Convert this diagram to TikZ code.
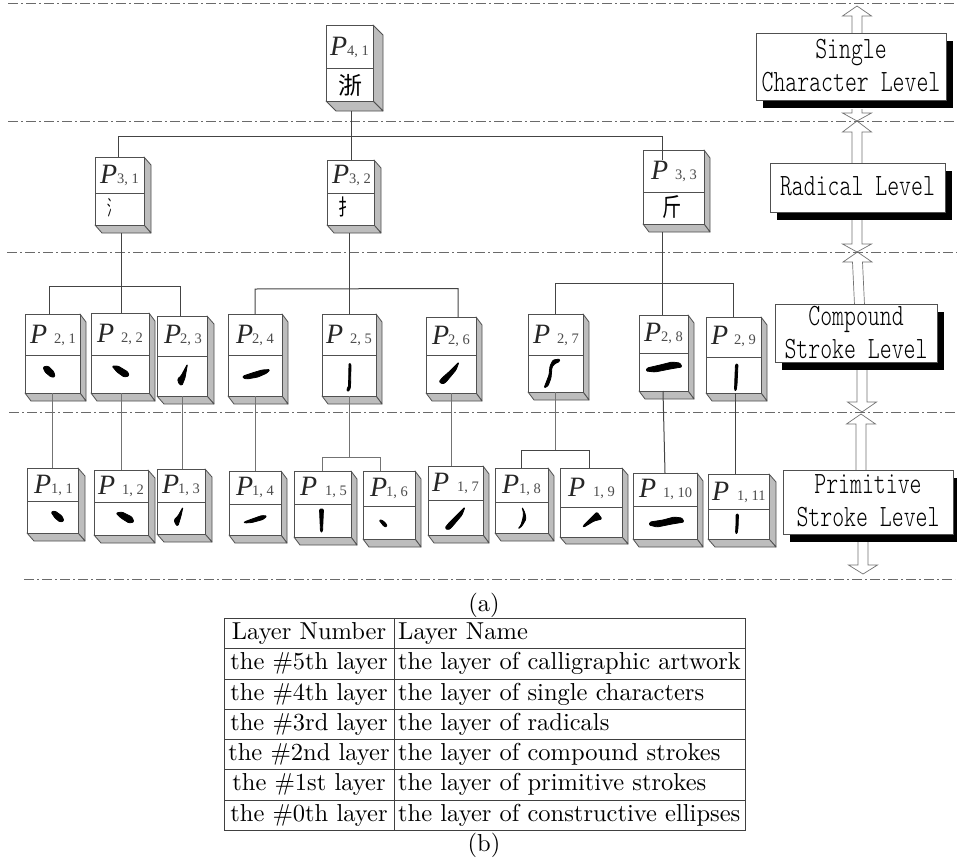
\documentclass[tikz,border=0pt]{standalone}
\usepackage{fontspec}
\newfontfamily\tms{Liberation Serif}
\newfontfamily\cjk{Noto Sans CJK SC}
\newfontfamily\lvfont{Latin Modern Mono Light}
\usetikzlibrary{calc}
\definecolor{edge}{HTML}{505050}
\definecolor{sidegray}{HTML}{BDBDBD}
\tikzset{
  boxfront/.style={draw=edge,fill=white,line width=.8pt,inner sep=0pt,outer sep=0pt},
  boxside/.style={draw=edge,fill=sidegray,line width=.8pt,line join=round},
  boxdiv/.style={draw=edge,line width=.8pt},
  conn/.style={draw=edge!85!black,line width=1pt},
  thinconn/.style={draw=edge!80,line width=.8pt},
  level/.style={draw=edge,fill=white,line width=.8pt,inner sep=0pt,outer sep=0pt,align=center,font=\fontsize{10}{33}\selectfont\lvfont},
  hollow/.style={draw=edge!80,fill=white,line width=.7pt,line join=miter},
  sep/.style={draw=edge!85,line width=1pt,dash pattern=on 10pt off 3pt on 2pt off 3pt},
  pen/.style={fill=black,draw=black,line width=.8pt,line join=round,rounded corners=1.2pt},
  pletter/.style={anchor=base west,inner sep=0pt,text=black!85,font=\fontsize{28}{28}\selectfont\tms\itshape},
  psub/.style={anchor=base west,inner sep=0pt,text=black!70,font=\fontsize{14.5}{15}\selectfont\tms},
  tabtext/.style={inner sep=0pt,font=\fontsize{10}{12}\selectfont},
  tabline/.style={draw=edge!80!black,line width=.9pt},
  glyph/.style={inner sep=0pt}
}
\newcommand\tx[1]{\scalebox{2.45}{#1}}
\newcommand\pbox[8]{% name l t r b div rr bb
  \draw[boxside] (#4,#3) -- (#7,{#3+#8-#5}) -- (#7,#8) -- (#4,#5) -- cycle;
  \draw[boxside] (#2,#5) -- ({#2+#7-#4},#8) -- (#7,#8) -- (#4,#5) -- cycle;
  \node[boxfront,minimum width={(#4-#2)*1pt},minimum height={(#5-#3)*1pt}] (#1) at ({(#2+#4)/2},{(#3+#5)/2}) {};
  \draw[boxdiv] (#2,#6) -- (#4,#6);
  \coordinate (#1-b) at (#7,#8);
}
\newcommand\plabel[5]{% name px sx y sub
  \node[pletter] (#1-P) at (#2,#4) {P};
  \node[psub] (#1-s) at (#3,#4) {#5};
}
\newcommand\lv[1]{\raisebox{2pt}{\scalebox{2.27}[3.1]{#1}}}
\newcommand\levelbox[6]{% name l t r b text
  \fill[black] ({#2+7},{#3+8}) rectangle ({#4+7},{#5+8});
  \node[level,minimum width={(#4-#2)*1pt},minimum height={(#5-#3)*1pt}] (#1) at ({(#2+#4)/2},{(#3+#5)/2}) {#6};
}
\newcommand\hollowarrow[5]{% xstart xhead ystart ybase ytip
  \draw[hollow] ({#1-5},#3) -- ({#2-5},#4) -- ({#2-14.5},#4) -- (#2,#5) -- ({#2+14.5},#4) -- ({#2+5},#4) -- ({#1+5},#3);
}
\begin{document}
\begin{tikzpicture}[x=1pt,y=-1pt]
\useasboundingbox (0,0) rectangle (957,862);
\clip (0,0) rectangle (957,862);
\fill[white] (0,0) rectangle (957,862);

% hollow arrows
\hollowarrow{857}{857}{34}{16}{6}
\hollowarrow{857}{857}{109}{113}{121}
\hollowarrow{857}{857}{164}{132}{121}
\hollowarrow{857}{857}{220}{244}{252}
\hollowarrow{859.5}{857.5}{305}{262}{252}
\hollowarrow{862}{862}{370}{402}{412}
\hollowarrow{861}{861}{471}{424}{414}
\hollowarrow{863}{863}{542}{565}{574}

% separators
\coordinate (s1l) at (8,3);   \coordinate (s1r) at (957,3);
\coordinate (s2l) at (8,121); \coordinate (s2r) at (957,121);
\coordinate (s3l) at (7,252); \coordinate (s3r) at (957,252);
\coordinate (s4l) at (9,412); \coordinate (s4r) at (957,412);
\coordinate (s5l) at (24,579);\coordinate (s5r) at (955,579);
\foreach \i in {1,...,5} \draw[sep] (s\i l) -- (s\i r);

% level boxes
\levelbox{lvA}{756}{33}{946}{100}{\lv{Single}\\\lv{Character Level}}
\levelbox{lvB}{770}{163}{945}{212}{\lv{Radical Level}}
\levelbox{lvC}{775}{304}{937}{362}{\lv{Compound}\\\lv{Stroke Level}}
\levelbox{lvD}{783}{470}{953}{534}{\lv{Primitive}\\\lv{Stroke Level}}

% boxes
\pbox{p41}{326}{25}{373}{101}{68}{383}{111}
\pbox{p31}{95}{157}{144}{225}{193}{151}{233}
\pbox{p32}{327}{160}{374}{225}{193}{381}{233}
\pbox{p33}{643}{150}{704}{224}{192}{710}{232}
\pbox{p21}{25}{314}{80}{393}{355}{86}{401}
\pbox{p22}{91}{313}{149}{393}{355}{155}{401}
\pbox{p23}{157}{316}{207}{396}{356}{214}{404}
\pbox{p24}{228}{314}{282}{396}{355}{288}{404}
\pbox{p25}{322}{314}{376}{396}{355}{382}{404}
\pbox{p26}{426}{317}{476}{393}{355}{482}{401}
\pbox{p27}{528}{314}{583}{392}{355}{589}{400}
\pbox{p28}{639}{315}{688}{391}{353}{694}{399}
\pbox{p29}{706}{317}{761}{393}{357}{767}{401}
\pbox{p11}{27}{468}{78}{533}{501}{85}{541}
\pbox{p12}{94}{470}{148}{535}{502}{155}{543}
\pbox{p13}{157}{469}{205}{534}{502}{212}{542}
\pbox{p14}{229}{471}{281}{535}{504}{287}{543}
\pbox{p15}{294}{471}{351}{537}{504}{357}{545}
\pbox{p16}{363}{471}{415}{539}{506}{421}{547}
\pbox{p17}{428}{466}{483}{535}{500}{489}{543}
\pbox{p18}{495}{468}{548}{533}{502}{554}{541}
\pbox{p19}{560}{468}{622}{537}{507}{628}{544}
\pbox{p110}{633}{473}{697}{539}{506}{703}{547}
\pbox{p111}{708}{474}{769}{539}{509}{776}{547}

% labels
\plabel{p41}{330}{347}{55}{4, 1}
\plabel{p31}{100}{117}{183}{3, 1}
\plabel{p32}{332}{349}{183}{3, 2}
\plabel{p33}{651}{675}{179}{3, 3}
\plabel{p21}{30}{54}{343}{2, 1}
\plabel{p22}{97}{121}{342}{2, 2}
\plabel{p23}{164}{180}{343}{2, 3}
\plabel{p24}{236}{252}{343}{2, 4}
\plabel{p25}{326}{350}{343}{2, 5}
\plabel{p26}{432}{448}{344}{2, 6}
\plabel{p27}{533}{557}{343}{2, 7}
\plabel{p28}{644}{661}{341}{2, 8}
\plabel{p29}{711}{734}{344}{2, 9}
\plabel{p11}{34}{51}{493}{1, 1}
\plabel{p12}{98}{122}{494}{1, 2}
\plabel{p13}{162}{178}{493}{1, 3}
\plabel{p14}{236}{252}{495}{1, 4}
\plabel{p15}{300}{325}{495}{1, 5}
\plabel{p16}{370}{386}{496}{1, 6}
\plabel{p17}{432}{457}{491}{1, 7}
\plabel{p18}{502}{519}{493}{1, 8}
\plabel{p19}{568}{593}{496}{1, 9}
\plabel{p110}{639}{663}{497}{1, 10}
\plabel{p111}{712}{737}{500}{1, 11}

% characters
\node[glyph,font=\fontsize{24}{24}\selectfont\cjk] (g41) at (350,85) {浙};
\node[glyph,font=\fontsize{20}{20}\selectfont\cjk] (g31) at (112,208) {\scalebox{.5}[1.05]{氵}};
\node[glyph,font=\fontsize{20}{20}\selectfont\cjk] (g32) at (346,207) {\scalebox{.8}[1.1]{扌}};
\node[glyph,font=\fontsize{24}{24}\selectfont\cjk] (g33) at (672,207) {\scalebox{.8}[1.05]{斤}};

% brush strokes
\filldraw[pen] (43,367) -- (48,366) -- (54,372) -- (55,377) -- (51,377) -- (45,372) -- cycle;
\filldraw[pen] (112,366) -- (118,366) -- (128,372) -- (129,376) -- (124,377) -- (117,372) -- cycle;
\filldraw[pen] (187.5,364) -- (185,378) -- (182,385.5) -- (179,384) -- (177.5,379) -- (181,376) -- cycle;
\filldraw[pen] (243,376) -- (252,373) -- (262,370) -- (270,369.5) -- (267,373) -- (258,377) -- (247,379) -- (243,378) -- cycle;
\filldraw[pen] (349,363) -- (351,364) -- (350.5,388) -- (348,392) -- (346.5,389) -- (348.5,387) -- cycle;
\filldraw[pen] (459,362) -- (456,370) -- (446,382) -- (443,384) -- (439,382) -- (442,378) -- (450,371) -- cycle;
\filldraw[pen] (560,359) -- (553,360) -- (550,366) -- (549,375) -- (544,388) -- (548,386) -- (551,378) -- (552,367) -- (555,363.5) -- (559,362) -- cycle;
\filldraw[pen] (646,371) -- (647,368) -- (660,365) -- (672,362) -- (680,363) -- (682,367) -- (670,369) -- (655,372) -- cycle;
\filldraw[pen] (735.5,364) -- (738,364) -- (737,385) -- (736,391) -- (734.5,390) -- (735,375) -- cycle;
\filldraw[pen] (51,512) -- (55,511) -- (62,516) -- (64,521) -- (60,522) -- (55,518) -- cycle;
\filldraw[pen] (116,513) -- (122,512) -- (132,517) -- (134,522) -- (129,523) -- (121,518) -- cycle;
\filldraw[pen] (183,507) -- (181,516) -- (178,526) -- (176,525) -- (174,520) -- (178,516) -- cycle;
\filldraw[pen] (244,522) -- (252,519) -- (262,515.5) -- (267,516) -- (263,519.5) -- (252,522.5) -- (245,523) -- cycle;
\filldraw[pen] (319.5,509) -- (323.5,509) -- (322.5,532) -- (320.5,532) -- cycle;
\filldraw[pen] (379,520) -- (382,520) -- (386.5,524) -- (387,527) -- (384,526.5) -- cycle;
\filldraw[pen] (465,507) -- (462,515) -- (451,528) -- (448,530) -- (445,528) -- (448,524) -- (456,516) -- cycle;
\filldraw[pen] (522,507) -- (525,513) -- (526,519) -- (522,526) -- (518,529) -- (521,525) -- (523,518) -- (523.5,513) -- cycle;
\filldraw[pen] (597,512) -- (602,519) -- (594,521) -- (584,527) -- (583,526) -- (591,518) -- cycle;
\filldraw[pen] (649,525) -- (650,522) -- (663,520) -- (674,517) -- (682,518) -- (684,522) -- (672,524) -- (657,527) -- cycle;
\filldraw[pen] (736,514) -- (738.5,514) -- (738,528) -- (737,534) -- (735.5,533) -- (736,524) -- cycle;

% connectors
\coordinate (t4) at (351,136); \coordinate (t4l) at (118.5,136); \coordinate (t4r) at (662,136);
\draw[conn] (p41-b -| t4) -- (p32.north -| t4);
\draw[conn] (p31.north -| t4l) -- (t4l) -- (t4r) -- (662,160);

\coordinate (t31) at (121,286); \coordinate (t31l) at (49,286); \coordinate (t31r) at (180,286);
\draw[conn] (p31-b -| t31) -- (p22.north -| t31);
\draw[conn] (p21.north -| t31l) -- (t31l) -- (t31r) -- (p23.north -| t31r);

\coordinate (t32) at (349,289); \coordinate (t32l) at (255,289); \coordinate (t32r) at (458,288.5);
\draw[conn] (p32-b -| t32) -- (p25.north -| t32);
\draw[conn] (p24.north -| t32l) -- (t32l) -- (t32r) -- (p26.north -| t32r);

\coordinate (t33) at (662,283); \coordinate (t33l) at (555,283); \coordinate (t33r) at (733,283);
\draw[conn] (p33-b -| t33) -- (p28.north -| t33);
\draw[conn] (p27.north -| t33l) -- (t33l) -- (t33r) -- (p29.north -| t33r);

\coordinate (u21) at (52,393); \coordinate (u22) at (121,393); \coordinate (u23) at (182,396);
\coordinate (u24) at (255,396); \coordinate (u26) at (451,393);
\coordinate (u28a) at (663,391); \coordinate (u28b) at (665,473); \coordinate (u29) at (735,393);
\draw[thinconn] (p21.south -| u21) -- (p11.north -| u21);
\draw[thinconn] (p22.south -| u22) -- (p12.north -| u22);
\draw[thinconn] (p23.south -| u23) -- (p13.north -| u23);
\draw[thinconn] (p24.south -| u24) -- (p14.north -| u24);
\draw[thinconn] (p26.south -| u26) -- (p17.north -| u26);
\draw[conn] (u28a) -- (u28b);
\draw[conn] (p29.south -| u29) -- (p111.north -| u29);

\coordinate (t25) at (349,457); \coordinate (t25l) at (322.7,457); \coordinate (t25r) at (380,457);
\draw[thinconn] (p25.south -| t25) -- (t25);
\draw[thinconn] (p15.north -| t25l) -- (t25l) -- (t25r) -- (p16.north -| t25r);

\coordinate (t27) at (555,450.5); \coordinate (t27l) at (521,450.5); \coordinate (t27r) at (589,450.5);
\draw[thinconn] (p27.south -| t27) -- (t27);
\draw[conn] (p18.north -| t27l) -- (t27l) -- (t27r) -- (p19.north -| t27r);

% captions
\node[tabtext,anchor=base] (capa) at (484,611) {\tx{(a)}};
\node[tabtext,anchor=base] (capb) at (484,851) {\tx{(b)}};

% table
\draw[tabline] (224,618) rectangle (745,830);
\draw[tabline] (394,618) -- (394,830);
\foreach \y in {648,679,709,739,769,800} \draw[tabline] (224,\y) -- (745,\y);
\foreach \n/\y/\a/\b in {
 1/639/{Layer Number}/{Layer Name},
 2/669.5/{the \#5th layer}/{the layer of calligraphic artwork},
 3/700/{the \#4th layer}/{the layer of single characters},
 4/730/{the \#3rd layer}/{the layer of radicals},
 5/760/{the \#2nd layer}/{the layer of compound strokes},
 6/790.5/{the \#1st layer}/{the layer of primitive strokes},
 7/821/{the \#0th layer}/{the layer of constructive ellipses}}{
  \node[tabtext,anchor=base] (ta\n) at (309,\y) {\tx{\a}};
  \node[tabtext,anchor=base west] (tb\n) at (398,\y) {\tx{\b}};
}
\end{tikzpicture}
\end{document}
